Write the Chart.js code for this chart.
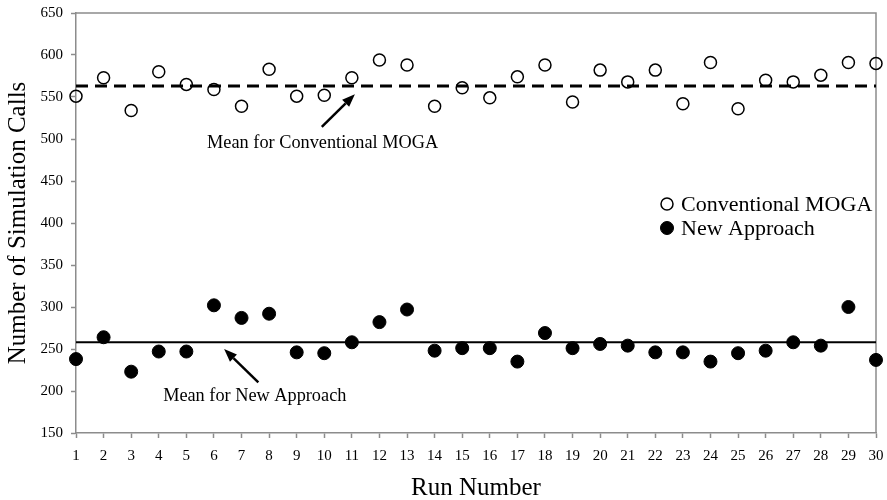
<!DOCTYPE html>
<html>
<head>
<meta charset="utf-8">
<script src="https://cdn.jsdelivr.net/npm/chart.js@4.4.0/dist/chart.umd.min.js"></script>
<style>
    html, body { margin: 0; padding: 0; background: #fff; }
</style>
</head>
<body>
<canvas id="chart" width="887" height="500"></canvas>
<script>
// Chart data
const runs = [1, 2, 3, 4, 5, 6, 7, 8, 9, 10, 11, 12, 13, 14, 15, 16, 17, 18, 19, 20, 21, 22, 23, 24, 25, 26, 27, 28, 29, 30];
const conventional = [551, 573, 534, 580, 565, 559, 539, 583, 551, 552, 573, 594, 588, 539, 561, 549, 574, 588, 544, 582, 568, 582, 542, 591, 536, 570, 568, 576, 591, 590];
const newApproach = [238, 264, 223, 247, 247, 302, 287, 292, 246, 245, 258, 282, 297, 248, 251, 251, 235, 269, 251, 256, 254, 246, 246, 235, 245, 248, 258, 254, 300, 237];
const conventionalMean = 563;
const newMean = 258;
const yTicks = [150, 200, 250, 300, 350, 400, 450, 500, 550, 600, 650];

// Annotation anchors, in [run, calls]
const convNoteText = "Mean for Conventional MOGA";
const convNoteAt = [9.94, 495.5], convArrowFrom = [9.91, 514.5], convArrowTo = [11.11, 553.4];
const newNoteText = "Mean for New Approach";
const newNoteAt = [7.48, 194.4], newArrowFrom = [7.61, 210.2], newArrowTo = [6.37, 249.9];

const serif = "'Liberation Serif', 'Times New Roman', serif";
const grey = "#8c8c8c";
Chart.defaults.font.family = serif;
Chart.defaults.color = "#000";

const toPoints = (ys) => runs.map((r, i) => ({ x: r, y: ys[i] }));
const flat = (v) => [{ x: runs[0], y: v }, { x: runs[runs.length - 1], y: v }];

// Box round the plot area
const frame = {
    id: "frame",
    beforeDatasetsDraw(chart) {
        const { ctx, chartArea: a } = chart;
        ctx.save();
        ctx.strokeStyle = grey;
        ctx.lineWidth = 1.5;
        ctx.beginPath();
        ctx.moveTo(a.left, a.top);
        ctx.lineTo(a.right, a.top);
        ctx.lineTo(a.right, a.bottom);
        ctx.stroke();
        ctx.restore();
    }
};

// Text notes with arrows
const notes = {
    id: "notes",
    afterDatasetsDraw(chart) {
        const { ctx, scales: { x, y } } = chart;
        const px = (p) => [x.getPixelForValue(p[0]), y.getPixelForValue(p[1])];
        const arrow = (from, to) => {
            const [x0, y0] = px(from), [x1, y1] = px(to);
            const ang = Math.atan2(y1 - y0, x1 - x0), len = 13, half = 5;
            const bx = x1 - len * Math.cos(ang), by = y1 - len * Math.sin(ang);
            ctx.lineWidth = 2.5;
            ctx.beginPath();
            ctx.moveTo(x0, y0);
            ctx.lineTo(bx, by);
            ctx.stroke();
            ctx.beginPath();
            ctx.moveTo(x1, y1);
            ctx.lineTo(bx + half * Math.sin(ang), by - half * Math.cos(ang));
            ctx.lineTo(bx - half * Math.sin(ang), by + half * Math.cos(ang));
            ctx.closePath();
            ctx.fill();
        };
        ctx.save();
        ctx.fillStyle = "#000";
        ctx.strokeStyle = "#000";
        ctx.font = "18.3px " + serif;
        ctx.textAlign = "center";
        ctx.textBaseline = "middle";
        let [tx, ty] = px(convNoteAt);
        ctx.fillText(convNoteText, tx, ty);
        [tx, ty] = px(newNoteAt);
        ctx.fillText(newNoteText, tx, ty);
        arrow(convArrowFrom, convArrowTo);
        arrow(newArrowFrom, newArrowTo);
        ctx.restore();
    }
};

// Legend inside the plot
const legendBox = {
    id: "legendBox",
    afterDatasetsDraw(chart) {
        const { ctx, chartArea: a } = chart;
        const items = chart.data.datasets.filter(d => d.inLegend);
        ctx.save();
        ctx.font = "22px " + serif;
        ctx.textBaseline = "middle";
        items.forEach((d, i) => {
            const lx = a.right - 209, ly = a.top + 191 + i * 24;
            ctx.beginPath();
            ctx.arc(lx, ly, d.pointRadius, 0, Math.PI * 2);
            ctx.fillStyle = d.legendFill;
            ctx.fill();
            ctx.lineWidth = d.pointBorderWidth;
            ctx.strokeStyle = d.borderColor;
            ctx.stroke();
            ctx.fillStyle = "#000";
            ctx.fillText(d.label, lx + 14, ly + 1);
        });
        ctx.restore();
    }
};

new Chart(document.getElementById("chart"), {
    type: "scatter",
    data: {
        datasets: [
            {
                label: "Conventional MOGA",
                data: toPoints(conventional),
                inLegend: true,
                legendFill: "#fff",
                pointRadius: 6,
                pointBorderWidth: 1.5,
                borderColor: "#000",
                backgroundColor: "rgba(255,255,255,0)",
                clip: false,
                order: 1
            },
            {
                label: "New Approach",
                data: toPoints(newApproach),
                inLegend: true,
                legendFill: "#000",
                pointRadius: 6.5,
                pointBorderWidth: 1,
                borderColor: "#000",
                backgroundColor: "#000",
                clip: false,
                order: 1
            },
            {
                type: "line",
                label: "Mean for Conventional MOGA",
                data: flat(conventionalMean),
                borderColor: "#000",
                borderWidth: 3,
                borderDash: [12, 7],
                pointRadius: 0,
                order: 2
            },
            {
                type: "line",
                label: "Mean for New Approach",
                data: flat(newMean),
                borderColor: "#000",
                borderWidth: 2,
                pointRadius: 0,
                order: 2
            }
        ]
    },
    options: {
        responsive: false,
        animation: false,
        events: [],
        layout: { padding: { top: 13, right: 11, left: 0, bottom: 0 } },
        plugins: { legend: { display: false }, tooltip: { enabled: false } },
        scales: {
            x: {
                type: "linear",
                min: runs[0],
                max: runs[runs.length - 1],
                afterBuildTicks: s => { s.ticks = runs.map(v => ({ value: v })); },
                afterFit: s => { s.height = 67; s.paddingLeft = 0; s.paddingRight = 0; },
                ticks: { font: { size: 15 }, padding: 9, maxRotation: 0, autoSkip: false },
                grid: { drawOnChartArea: false, tickLength: 5, tickColor: grey, tickWidth: 1.5 },
                border: { color: grey, width: 1.5 },
                title: { display: true, text: "Run Number", font: { size: 25 }, padding: { top: 0, bottom: -3 } }
            },
            y: {
                min: yTicks[0],
                max: yTicks[yTicks.length - 1],
                afterBuildTicks: s => { s.ticks = yTicks.map(v => ({ value: v })); },
                afterFit: s => { s.width = 76; s.paddingTop = 0; s.paddingBottom = 0; },
                ticks: { font: { size: 15 }, padding: 8 },
                grid: { drawOnChartArea: false, tickLength: 5, tickColor: grey, tickWidth: 1.5 },
                border: { color: grey, width: 1.5 },
                title: { display: true, text: "Number of Simulation Calls", font: { size: 25 }, padding: { top: 3, bottom: 0 } }
            }
        }
    },
    plugins: [frame, notes, legendBox]
});
</script>
</body>
</html>
